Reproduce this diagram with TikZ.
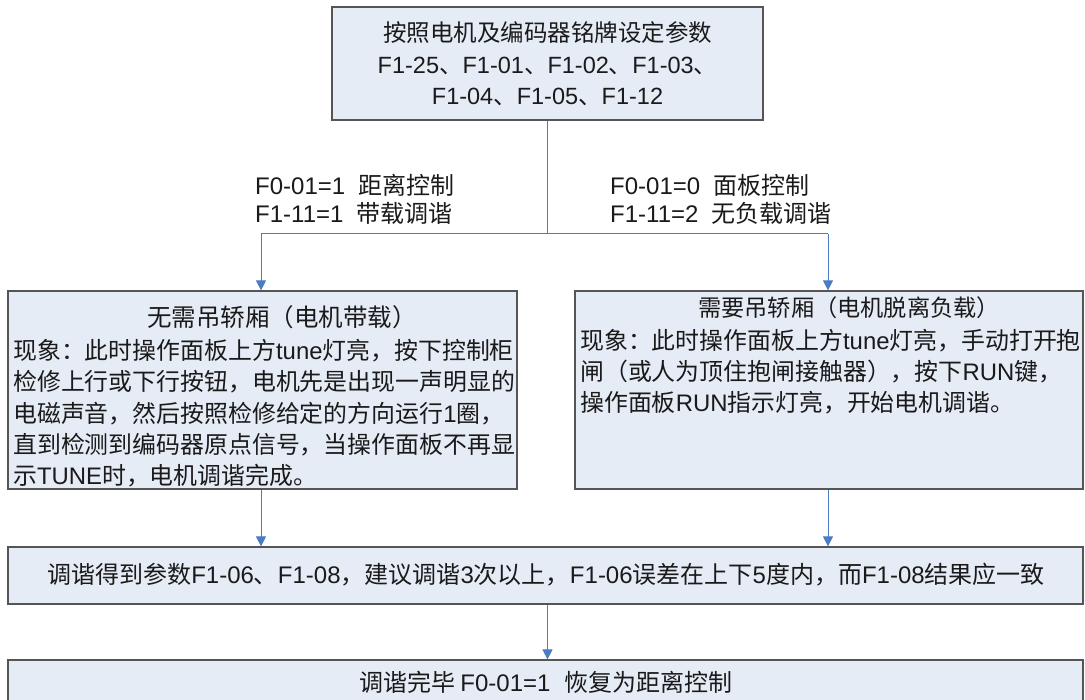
\documentclass[tikz,border=0pt]{standalone}
\usepackage{fontspec}
\setmainfont{Noto Sans CJK SC}
\newfontfamily\arfont{Liberation Sans}
\newcommand\A[1]{{\arfont #1}}
\usetikzlibrary{arrows.meta}
\definecolor{boxfill}{HTML}{E6ECF6}
\definecolor{boxline}{HTML}{555555}
\definecolor{conn}{HTML}{4A7CC4}
\definecolor{txt}{HTML}{1A1A1A}
\tikzset{
  box/.style={draw=boxline, fill=boxfill, line width=1.2pt, rectangle, inner sep=0pt},
  lbl/.style={inner sep=0pt, text=txt, align=left},
  ctr/.style={inner sep=0pt, text=txt, align=center},
  conline/.style={draw=conn, line width=1pt},
  conarrow/.style={conline, -{Triangle[length=10pt,width=10pt]}},
}
\begin{document}
\begin{tikzpicture}[x=1pt,y=-1pt]
\useasboundingbox (0,0) rectangle (1085,700);
% boxes
\node[box, minimum width=431pt, minimum height=113pt] (top) at (547.5,63.5) {};
\node[box, minimum width=509pt, minimum height=198pt] (left) at (262.5,390) {};
\node[box, minimum width=508pt, minimum height=198pt] (right) at (829,390) {};
\node[box, minimum width=1075pt, minimum height=57pt] (mid) at (545.5,575.5) {};
\node[box, minimum width=1075pt, minimum height=57pt] (bot) at (545.5,688.5) {};
% texts
\node[ctr, font=\fontsize{23.5pt}{31.5pt}\selectfont] (toptext) at (547.5,64)
  {按照电机及编码器铭牌设定参数\\\A{F1-25}、\A{F1-01}、\A{F1-02}、\A{F1-03}、\\\A{F1-04}、\A{F1-05}、\A{F1-12}};
\node[lbl, anchor=west, font=\fontsize{24pt}{28pt}\selectfont] (l1) at (255,185) {\A{F0-01=1}\hspace{0.55em}距离控制};
\node[lbl, anchor=west, font=\fontsize{24pt}{28pt}\selectfont] (l2) at (255,213) {\A{F1-11=1}\hspace{0.55em}带载调谐};
\node[lbl, anchor=west, font=\fontsize{24pt}{28pt}\selectfont] (r1) at (610,185) {\A{F0-01=0}\hspace{0.55em}面板控制};
\node[lbl, anchor=west, font=\fontsize{24pt}{28pt}\selectfont] (r2) at (610,213) {\A{F1-11=2}\hspace{0.55em}无负载调谐};
\node[ctr, font=\fontsize{24.5pt}{31pt}\selectfont] (lefttitle) at (282,317) {无需吊轿厢（电机带载）};
\node[lbl, anchor=north west, font=\fontsize{23.9pt}{31.3pt}\selectfont] (leftbody) at (13,339)
  {现象：此时操作面板上方\A{tune}灯亮，按下控制柜\\
   检修上行或下行按钮，电机先是出现一声明显的\\
   电磁声音，然后按照检修给定的方向运行\A{1}圈，\\
   直到检测到编码器原点信号，当操作面板不再显\\
   示\A{TUNE}时，电机调谐完成。};
\node[ctr, font=\fontsize{23.2pt}{31pt}\selectfont] (righttitle) at (849,308) {需要吊轿厢（电机脱离负载）};
\node[lbl, anchor=north west, font=\fontsize{23.9pt}{31pt}\selectfont] (rightbody) at (580,329)
  {现象：此时操作面板上方\A{tune}灯亮，手动打开抱\\
   闸（或人为顶住抱闸接触器），按下\A{RUN}键，\\
   操作面板\A{RUN}指示灯亮，开始电机调谐。};
\node[ctr, font=\fontsize{24pt}{30pt}\selectfont] (midtext) at (546,575)
  {调谐得到参数\A{F1-06}、\A{F1-08}，建议调谐\A{3}次以上，\A{F1-06}误差在上下\A{5}度内，而\A{F1-08}结果应一致};
\node[ctr, font=\fontsize{24pt}{30pt}\selectfont] (bottext) at (546,682)
  {调谐完毕 \A{F0-01=1}\hspace{0.6em}恢复为距离控制};
% connectors
\coordinate (j) at (547.5,234);
\coordinate (jl) at (261,234);
\coordinate (jr) at (828,234);
\draw[conline] (top.south -| j) -- (j);
\draw[conline] (jl) -- (jr);
\draw[conarrow] (jl) -- (jl |- left.north);
\draw[conarrow] (jr) -- (jr |- right.north);
\draw[conarrow] (left.south -| jl) -- (jl |- mid.north);
\draw[conarrow] (right.south -| jr) -- (jr |- mid.north);
\draw[conarrow] (mid.south -| j) -- (j |- bot.north);
\end{tikzpicture}
\end{document}
